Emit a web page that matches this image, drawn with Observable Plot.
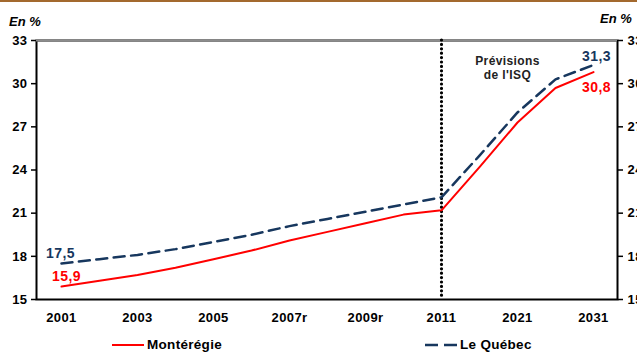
<!DOCTYPE html>
<html>
<head>
<meta charset="utf-8">
<script src="https://cdn.jsdelivr.net/npm/d3@7"></script>
<script src="https://cdn.jsdelivr.net/npm/@observablehq/plot@0.6"></script>
<style>
  html, body { margin: 0; padding: 0; background: #fff; overflow: hidden; }
  #wrap { position: relative; width: 637px; height: 353px; font-family: "Liberation Sans", Arial, sans-serif; color: #000; }
  #topline { position: absolute; left: 0; top: 0; width: 637px; height: 2px; background: #a3692e; }
  .unit { position: absolute; font-size: 13px; font-weight: bold; font-style: italic; line-height: 13px; white-space: nowrap; }
  .leg { position: absolute; display: flex; align-items: center; font-size: 13.5px; font-weight: bold; line-height: 14px; white-space: nowrap; letter-spacing: 0.3px; }
  .leg svg { display: block; margin-right: 3px; }
</style>
</head>
<body>
<div id="wrap">
  <div id="chart"></div>
  <div id="topline"></div>
  <div class="unit" style="left:9px; top:15px;">En %</div>
  <div class="unit" style="left:600px; top:12px;">En %</div>
  <div id="legend"></div>
</div>
<script>
// ---- data ----
const years = ["2001","2002","2003","2004","2005","2006","2007","2008","2009","2010","2011","2016","2021","2026","2031"];
const monteregie = [15.9,16.3,16.7,17.2,17.8,18.4,19.1,19.7,20.3,20.9,21.2,24.2,27.3,29.7,30.8];
const quebec     = [17.5,17.8,18.1,18.5,19.0,19.5,20.1,20.6,21.1,21.6,22.1,25.0,28.0,30.3,31.3];
const seriesNames = ["Montérégie", "Le Québec"];
const xTicks = ["2001","2003","2005","2007","2009","2011","2021","2031"];
const xTickLabels = ["2001","2003","2005","2007r","2009r","2011","2021","2031"];
const yTicks = [15,18,21,24,27,30,33];
const forecastStart = "2011";
const forecastNote = "Prévisions\nde l'ISQ";
const forecastNoteAt = {year: "2021", value: 31.15};

// ---- styling ----
const RED = "#ff0000";
const NAVY = "#17375e";
const FONT = "Liberation Sans, Arial, sans-serif";

const redData = years.map((y, i) => ({year: y, value: monteregie[i]}));
const blueData = years.map((y, i) => ({year: y, value: quebec[i]}));
const fmt = v => v.toFixed(1).replace(".", ",");
const tickLabel = d => xTickLabels[xTicks.indexOf(d)];

const first = i => [redData[0], blueData[0]][i];
const lastR = redData[redData.length - 1];
const lastB = blueData[blueData.length - 1];

const txt = {fontFamily: FONT, fontWeight: "bold"};

const plot = Plot.plot({
  width: 637,
  height: 353,
  marginTop: 40,
  marginBottom: 54,
  marginLeft: 36,
  marginRight: 20,
  style: {fontFamily: FONT, fontSize: "13px", fontWeight: "bold", letterSpacing: "0.4px", color: "#000", background: "transparent"},
  x: {type: "point", domain: years, padding: 0.5, axis: null},
  y: {domain: [15, 33], axis: null},
  marks: [
    Plot.frame({stroke: "#000", strokeWidth: 2}),
    Plot.ruleY([33], {stroke: "#8c8c8c", strokeWidth: 2}),
    Plot.axisY(yTicks, {anchor: "left", tickSize: 5, tickPadding: 4, strokeWidth: 1.5, fontSize: 13, ...txt, label: null}),
    Plot.axisY(yTicks, {anchor: "right", tickSize: 5, tickPadding: 5, strokeWidth: 1.5, fontSize: 13, ...txt, label: null}),
    Plot.axisX(xTicks, {anchor: "bottom", tickSize: 0, tickPadding: 13, tickFormat: tickLabel, fontSize: 13, ...txt, label: null}),
    Plot.ruleX([forecastStart], {stroke: "#000", strokeWidth: 3.2, strokeDasharray: "0,4.4", strokeLinecap: "round"}),
    Plot.line(blueData, {x: "year", y: "value", stroke: NAVY, strokeWidth: 2.5, strokeDasharray: "11,6.5"}),
    Plot.line(redData, {x: "year", y: "value", stroke: RED, strokeWidth: 2}),
    Plot.text([redData[0]], {x: "year", y: "value", text: d => fmt(d.value), fill: RED, dx: 5, dy: -10, fontSize: 14, ...txt}),
    Plot.text([blueData[0]], {x: "year", y: "value", text: d => fmt(d.value), fill: NAVY, dx: -1, dy: -10, fontSize: 14, ...txt}),
    Plot.text([lastB], {x: "year", y: "value", text: d => fmt(d.value), fill: NAVY, dx: 3, dy: -8, fontSize: 14, ...txt}),
    Plot.text([lastR], {x: "year", y: "value", text: d => fmt(d.value), fill: RED, dx: 3, dy: 15, fontSize: 14, ...txt}),
    Plot.text([forecastNoteAt], {x: "year", y: "value", text: () => forecastNote, dx: -10, fill: "#222", fontSize: 12, lineHeight: 1.18, ...txt})
  ]
});
document.getElementById("chart").appendChild(plot);

// ---- legend ----
const legend = document.getElementById("legend");
const items = [
  {name: seriesNames[0], color: RED, dash: null, left: 112, w: 32, sw: 2},
  {name: seriesNames[1], color: NAVY, dash: "13,6", left: 425, w: 32, sw: 2.5}
];
items.forEach(it => {
  const div = document.createElement("div");
  div.className = "leg";
  div.style.left = it.left + "px";
  div.style.top = "338px";
  div.innerHTML = `<svg width="${it.w}" height="12"><line x1="0" x2="${it.w}" y1="6" y2="6" stroke="${it.color}" stroke-width="${it.sw}" ${it.dash ? `stroke-dasharray="${it.dash}"` : ""}/></svg><span>${it.name}</span>`;
  legend.appendChild(div);
});
</script>
</body>
</html>
